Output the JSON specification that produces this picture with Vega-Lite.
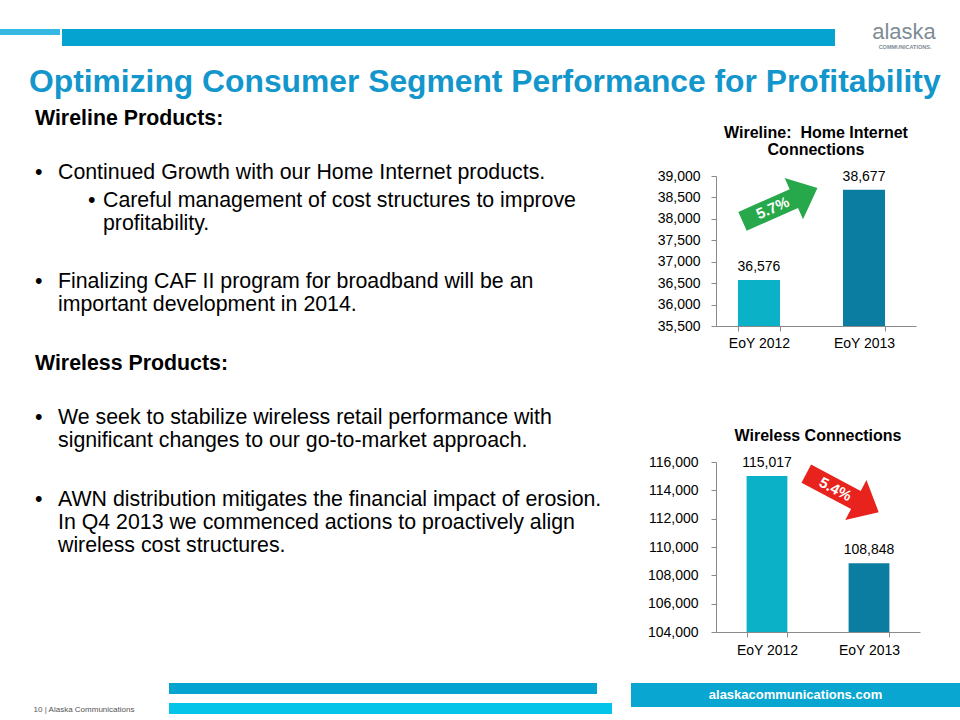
{
  "$schema": "https://vega.github.io/schema/vega-lite/v6.json",
  "background": "white",
  "padding": {"left": 0, "top": 20, "right": 0, "bottom": 0},
  "config": {
    "font": "Liberation Sans",
    "view": {"stroke": null},
    "axis": {"grid": false, "domainColor": "#8a8a8a", "tickColor": "#8a8a8a", "labelColor": "#000000", "labelFontSize": 14, "labelFont": "Liberation Sans", "title": null}
  },
  "resolve": {"scale": {"x": "independent", "y": "independent", "color": "independent"}},
  "spacing": 17,
  "vconcat": [
    {
      "spacing": 2,
      "hconcat": [
        {"width": 60, "height": 6, "data": {"values": [{"stripe": "accent"}]}, "mark": {"type": "rect", "color": "#35B9E2"}, "encoding": {}},
        {"width": 773, "height": 17, "data": {"values": [{"stripe": "header band"}]}, "mark": {"type": "rect", "color": "#05A3CF"}, "encoding": {}},
        {
          "width": 110, "height": 17,
          "data": {"values": [{"brand": "alaska", "tagline": "COMMUNICATIONS."}]},
          "layer": [
            {"mark": {"type": "text", "fontSize": 22, "color": "#7E8C96", "dx": 12, "dy": -6}, "encoding": {"text": {"field": "brand"}}},
            {"mark": {"type": "text", "fontSize": 5.5, "fontWeight": "bold", "color": "#7E8C96", "dx": 13, "dy": 9}, "encoding": {"text": {"field": "tagline"}}}
          ]
        }
      ]
    },
    {
      "spacing": 26,
      "resolve": {"scale": {"x": "independent", "y": "independent", "color": "independent"}},
      "vconcat": [
        {
          "title": {"text": "Optimizing Consumer Segment Performance for Profitability", "anchor": "start", "dx": 29, "fontSize": 31.8, "fontWeight": "bold", "color": "#1396CB", "font": "Liberation Sans", "offset": 9},
          "spacing": 45,
          "resolve": {"scale": {"x": "independent", "y": "independent", "color": "independent"}},
          "hconcat": [
            {
              "width": 600,
              "height": 380,
              "data": {"values": [
                {"line": 0, "level": 0, "text": "Wireline Products:"},
                {"line": 2, "level": 1, "text": "Continued Growth with our Home Internet products."},
                {"line": 3, "level": 2, "text": "Careful management of cost structures to improve\nprofitability."},
                {"line": 6, "level": 1, "text": "Finalizing CAF II program for broadband will be an\nimportant development in 2014."},
                {"line": 9, "level": 0, "text": "Wireless Products:"},
                {"line": 11, "level": 1, "text": "We seek to stabilize wireless retail performance with\nsignificant changes to our go-to-market approach."},
                {"line": 14, "level": 1, "text": "AWN distribution mitigates the financial impact of erosion.\nIn Q4 2013 we commenced actions to proactively align\nwireless cost structures."}
              ]},
              "resolve": {"scale": {"x": "independent"}},
              "layer": [
                {
                  "transform": [{"filter": "datum.level == 0"}],
                  "mark": {"type": "text", "align": "left", "baseline": "alphabetic", "fontSize": 21.33, "fontWeight": "bold", "color": "#000000", "lineBreak": "\n", "lineHeight": 23},
                  "encoding": {
                    "x": {"field": "level", "type": "quantitative", "scale": {"type": "pow", "exponent": 1.565, "domain": [0, 2], "range": [35, 103]}, "axis": null},
                    "y": {"field": "line", "type": "quantitative", "scale": {"domain": [0, 14], "range": [-51, 330]}, "axis": null},
                    "text": {"field": "text"}
                  }
                },
                {
                  "transform": [{"filter": "datum.level > 0"}],
                  "mark": {"type": "text", "align": "left", "baseline": "alphabetic", "fontSize": 21.33, "color": "#000000", "lineBreak": "\n", "lineHeight": 23},
                  "encoding": {
                    "x": {"field": "level", "type": "quantitative", "scale": {"type": "pow", "exponent": 1.565, "domain": [0, 2], "range": [35, 103]}, "axis": null},
                    "y": {"field": "line", "type": "quantitative", "scale": {"domain": [0, 14], "range": [-51, 330]}, "axis": null},
                    "text": {"field": "text"}
                  }
                },
                {
                  "transform": [{"filter": "datum.level > 0"}],
                  "mark": {"type": "text", "align": "left", "baseline": "alphabetic", "fontSize": 21.33, "color": "#000000", "text": "•"},
                  "encoding": {
                    "x": {"field": "level", "type": "quantitative", "scale": {"domain": [1, 2], "range": [35, 88]}, "axis": null},
                    "y": {"field": "line", "type": "quantitative", "scale": {"domain": [0, 14], "range": [-51, 330]}, "axis": null}
                  }
                }
              ]
            },
            {
              "columns": 1,
              "align": "none",
              "spacing": 78,
              "resolve": {"scale": {"x": "independent", "y": "independent", "color": "independent"}},
              "concat": [
                {
                  "width": 200,
                  "height": 150,
                  "title": {"text": ["Wireline:\u00a0\u00a0Home Internet", "Connections"], "fontSize": 16, "fontWeight": "bold", "lineHeight": 17, "color": "#000000", "offset": 11},
                  "data": {"values": [
                    {"period": "EoY 2012", "connections": 36576},
                    {"period": "EoY 2013", "connections": 38677}
                  ]},
                  "resolve": {"axis": {"x": "independent", "y": "independent"}},
                  "layer": [
                    {
                      "mark": {"type": "bar"},
                      "encoding": {
                        "x": {"field": "period", "type": "nominal", "scale": {"paddingInner": 0.6, "paddingOuter": 0.252, "align": 0.415}, "axis": {"labelAngle": 0, "tickBand": "extent", "tickSize": 5, "labelPadding": 5}},
                        "y": {"field": "connections", "type": "quantitative", "stack": null, "scale": {"domain": [35500, 39000], "zero": false, "nice": false}, "axis": {"values": [35500, 36000, 36500, 37000, 37500, 38000, 38500, 39000], "format": ",d", "tickSize": 5, "labelPadding": 11}},
                        "color": {"field": "period", "type": "nominal", "scale": {"range": ["#0BB1C7", "#0B7DA0"]}, "legend": null}
                      }
                    },
                    {
                      "mark": {"type": "text", "baseline": "bottom", "dy": -6, "fontSize": 14, "color": "#000000"},
                      "encoding": {
                        "x": {"field": "period", "type": "nominal", "axis": null},
                        "y": {"field": "connections", "type": "quantitative", "stack": null, "axis": null},
                        "text": {"field": "connections", "type": "quantitative", "format": ","}
                      }
                    },
                    {
                      "data": {"values": [{"from": "EoY 2012", "to": "EoY 2013", "change": "5.7%"}]},
                      "layer": [
                        {
                          "mark": {"type": "point", "shape": "M-1,-0.25L0.37,-0.25L0.37,-0.55L1,0L0.37,0.55L0.37,0.25L-1,0.25Z", "filled": true, "color": "#27A84A", "opacity": 1, "size": 6724, "angle": -24},
                          "encoding": {
                            "x": {"field": "from", "type": "nominal", "bandPosition": 1, "axis": null},
                            "y": {"datum": 38330, "type": "quantitative", "axis": null}
                          }
                        },
                        {
                          "mark": {"type": "text", "angle": -24, "dx": -8, "fontSize": 15, "fontWeight": "bold", "color": "#ffffff", "baseline": "middle", "align": "center"},
                          "encoding": {
                            "x": {"field": "from", "type": "nominal", "bandPosition": 1, "axis": null},
                            "y": {"datum": 38330, "type": "quantitative", "axis": null},
                            "text": {"field": "change"}
                          }
                        }
                      ]
                    }
                  ]
                },
                {
                  "width": 204,
                  "height": 170,
                  "title": {"text": "Wireless Connections", "fontSize": 16, "fontWeight": "bold", "color": "#000000", "offset": 11},
                  "data": {"values": [
                    {"period": "EoY 2012", "connections": 115017},
                    {"period": "EoY 2013", "connections": 108848}
                  ]},
                  "resolve": {"axis": {"x": "independent", "y": "independent"}},
                  "layer": [
                    {
                      "mark": {"type": "bar"},
                      "encoding": {
                        "x": {"field": "period", "type": "nominal", "scale": {"paddingInner": 0.6, "paddingOuter": 0.3}, "axis": {"labelAngle": 0, "tickBand": "extent", "tickSize": 5, "labelPadding": 6}},
                        "y": {"field": "connections", "type": "quantitative", "stack": null, "scale": {"domain": [104000, 116000], "zero": false, "nice": false}, "axis": {"values": [104000, 106000, 108000, 110000, 112000, 114000, 116000], "format": ",d", "tickSize": 5, "labelPadding": 13}},
                        "color": {"field": "period", "type": "nominal", "scale": {"range": ["#0BB1C7", "#0B7DA0"]}, "legend": null}
                      }
                    },
                    {
                      "mark": {"type": "text", "baseline": "bottom", "dy": -6, "fontSize": 14, "color": "#000000"},
                      "encoding": {
                        "x": {"field": "period", "type": "nominal", "axis": null},
                        "y": {"field": "connections", "type": "quantitative", "stack": null, "axis": null},
                        "text": {"field": "connections", "type": "quantitative", "format": ","}
                      }
                    },
                    {
                      "data": {"values": [{"from": "EoY 2012", "to": "EoY 2013", "change": "5.4%"}]},
                      "layer": [
                        {
                          "mark": {"type": "point", "shape": "M-1,-0.25L0.37,-0.25L0.37,-0.55L1,0L0.37,0.55L0.37,0.25L-1,0.25Z", "filled": true, "color": "#E8231D", "opacity": 1, "size": 6724, "angle": 28},
                          "encoding": {
                            "x": {"field": "to", "type": "nominal", "bandPosition": -0.15, "axis": null},
                            "y": {"datum": 113820, "type": "quantitative", "axis": null}
                          }
                        },
                        {
                          "mark": {"type": "text", "angle": 28, "dx": -8, "fontSize": 15, "fontWeight": "bold", "color": "#ffffff", "baseline": "middle", "align": "center"},
                          "encoding": {
                            "x": {"field": "to", "type": "nominal", "bandPosition": -0.15, "axis": null},
                            "y": {"datum": 113820, "type": "quantitative", "axis": null},
                            "text": {"field": "change"}
                          }
                        }
                      ]
                    }
                  ]
                }
              ]
            }
          ]
        },
        {
          "spacing": 19,
          "hconcat": [
            {
              "width": 150,
              "height": 24,
              "data": {"values": [{"page": 10, "company": "Alaska Communications"}]},
              "mark": {"type": "text", "fontSize": 8, "color": "#555555", "dx": 9, "dy": 15},
              "encoding": {"text": {"value": "10 | Alaska Communications"}}
            },
            {
              "spacing": 9,
              "vconcat": [
                {"width": 428, "height": 11, "data": {"values": [{"stripe": "footer band"}]}, "mark": {"type": "rect", "color": "#05A3CF"}, "encoding": {}},
                {"width": 443, "height": 11, "data": {"values": [{"stripe": "footer accent"}]}, "mark": {"type": "rect", "color": "#05C4E9"}, "encoding": {}}
              ]
            },
            {
              "width": 329,
              "height": 24,
              "view": {"fill": "#08A6D0", "stroke": null},
              "data": {"values": [{"site": "alaskacommunications.com"}]},
              "mark": {"type": "text", "fontSize": 13, "fontWeight": "bold", "color": "#ffffff"},
              "encoding": {"text": {"field": "site"}}
            }
          ]
        }
      ]
    }
  ]
}
